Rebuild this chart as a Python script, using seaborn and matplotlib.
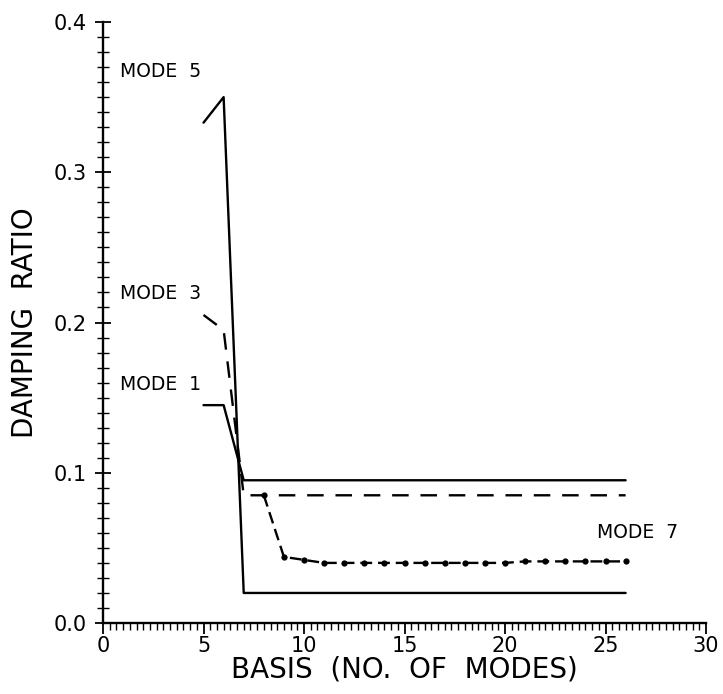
import numpy as np
import pandas as pd
import seaborn as sns
import matplotlib.pyplot as plt
from matplotlib.ticker import MultipleLocator

# values
mode1_x = [5, 6, 7, 26]
mode1_y = [0.145, 0.145, 0.095, 0.095]

mode3_x = [5, 6, 7, 26]
mode3_y = [0.205, 0.195, 0.085, 0.085]

mode5_x = [5, 6, 7, 26]
mode5_y = [0.333, 0.350, 0.020, 0.020]

mode7_x = list(range(8, 27))
mode7_y = [0.085, 0.044, 0.042, 0.040, 0.040, 0.040, 0.040, 0.040, 0.040, 0.040,
           0.040, 0.040, 0.040, 0.041, 0.041, 0.041, 0.041, 0.041, 0.041]

labels = ['MODE  5', 'MODE  3', 'MODE  1', 'MODE  7']
label_pos = [(0.85, 0.367), (0.85, 0.219), (0.85, 0.159), (24.6, 0.060)]

sns.set_style("ticks")
plt.rcParams['font.family'] = ['DejaVu Sans']
plt.rcParams['text.color'] = 'black'
plt.rcParams['axes.labelcolor'] = 'black'
plt.rcParams['xtick.color'] = 'black'
plt.rcParams['ytick.color'] = 'black'

fig = plt.figure(figsize=(7.23, 6.94), dpi=100)
ax = fig.add_axes([0.1425, 0.1023, 0.834, 0.866])

sns.lineplot(x=mode1_x, y=mode1_y, color='black', linewidth=1.7, ax=ax)
sns.lineplot(x=mode5_x, y=mode5_y, color='black', linewidth=1.7, ax=ax)
l3 = sns.lineplot(x=mode3_x, y=mode3_y, color='black', linewidth=1.7, ax=ax).lines[-1]
l3.set_dashes((7, 5))
l7 = sns.lineplot(x=mode7_x, y=mode7_y, color='black', linewidth=1.7, marker='o',
                  markersize=4.5, markeredgewidth=0, ax=ax).lines[-1]
l7.set_dashes((5, 2.5))

for t, (x, y) in zip(labels, label_pos):
    ax.text(x, y, t, fontsize=13.5, va='center', ha='left')

ax.set_xlim(0, 30)
ax.set_ylim(0, 0.4)
ax.xaxis.set_major_locator(MultipleLocator(5))
ax.xaxis.set_minor_locator(MultipleLocator(1 / 3))
ax.yaxis.set_major_locator(MultipleLocator(0.1))
ax.yaxis.set_minor_locator(MultipleLocator(0.01))
ax.xaxis.set_major_formatter(plt.FuncFormatter(lambda v, p: f'{v:.0f}'))
ax.yaxis.set_major_formatter(plt.FuncFormatter(lambda v, p: f'{v:.1f}'))
ax.tick_params(axis='x', which='major', direction='out', length=8, width=1.3, labelsize=15, pad=1)
ax.tick_params(axis='x', which='minor', direction='out', length=5, width=1.0)
ax.tick_params(axis='y', which='major', direction='inout', length=12, width=1.3, labelsize=15, pad=6)
ax.tick_params(axis='y', which='minor', direction='inout', length=8, width=1.0)
sns.despine(ax=ax)
for s in ['left', 'bottom']:
    ax.spines[s].set_linewidth(1.7)
    ax.spines[s].set_color('black')

ax.set_xlabel('BASIS  (NO.  OF  MODES)', fontsize=20, labelpad=0)
ax.set_ylabel('DAMPING  RATIO', fontsize=20, labelpad=10)

fig.savefig('out.png', dpi=100)
